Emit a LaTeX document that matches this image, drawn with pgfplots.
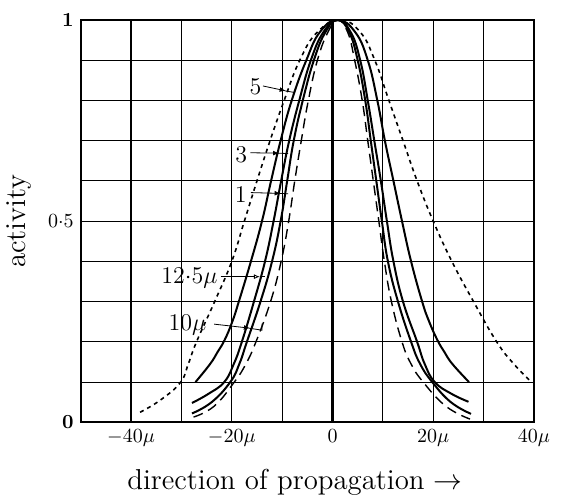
\documentclass[border=0pt]{standalone}
\usepackage{pgfplots}
\pgfplotsset{compat=1.18}
\usetikzlibrary{arrows.meta}
\begin{document}
\begin{tikzpicture}
\begin{axis}[
  scale only axis, width=226.5pt, height=201pt,
  xmin=-50, xmax=40, ymin=0, ymax=1,
  xtick={-40,-30,...,40},
  xticklabels={$-40\mu$,,$-20\mu$,,$0$,,$20\mu$,,$40\mu$},
  ytick={0,0.1,0.2,0.3,0.4,0.5,0.6,0.7,0.8,0.9,1},
  yticklabels={$\mathbf{0}$,,,,,$0{\cdot}5$,,,,,$\mathbf{1}$},
  major tick length=0pt,
  grid=major, grid style={black, line width=0.55pt},
  axis line style={line width=0.9pt},
  xlabel={direction of propagation $\rightarrow$},
  ylabel={activity},
  label style={font=\Large},
  xlabel style={at={(axis description cs:0.473,-0.148)}, anchor=center},
  ylabel style={at={(axis description cs:-0.135,0.5)}, anchor=center},
  every axis plot/.append style={smooth, tension=0.75, black, mark=none},
]
% x = 0 line
\draw[line width=1.2pt] (axis cs:0,0) -- (axis cs:0,1);
% widest, short dashes
\addplot[line width=0.8pt, dash pattern=on 2pt off 2pt] coordinates {
(-38.2,0.025) (-34.2,0.055) (-30.2,0.099) (-28.6,0.146) (-27,0.2) (-23.4,0.3) (-20,0.4) (-17.5,0.5) (-15,0.6) (-12.4,0.7) (-9.6,0.8) (-6.5,0.9) (-3,0.97) (1.5,1) (5.5,0.97) (8.4,0.9) (11.2,0.8) (14,0.7) (16.8,0.6) (20,0.5) (23.7,0.4) (28,0.3) (32.6,0.2) (36,0.145) (39.5,0.1)};
% curve 5
\addplot[line width=1pt] coordinates {
(-27.2,0.1) (-24.3,0.145) (-22.8,0.175) (-21.4,0.205) (-19.9,0.25) (-18.6,0.3) (-16.2,0.4) (-14,0.5) (-12.2,0.6) (-10.3,0.7) (-8.1,0.8) (-5.2,0.9) (-2.5,0.97) (1,1) (4.5,0.97) (7,0.9) (8.9,0.8) (10.4,0.7) (12.1,0.6) (13.8,0.5) (15.6,0.4) (17.8,0.3) (19.2,0.25) (20.8,0.205) (22.2,0.175) (23.8,0.145) (27.1,0.1)};
% curve 3
\addplot[line width=1pt] coordinates {
(-27.9,0.048) (-24.6,0.071) (-21.5,0.1) (-19.6,0.145) (-18,0.2) (-15.6,0.3) (-13.4,0.4) (-11.7,0.5) (-10.2,0.6) (-8.6,0.7) (-6.6,0.8) (-4.3,0.9) (-1.8,0.97) (1,1) (3.6,0.97) (5.5,0.9) (7,0.8) (8.3,0.7) (9.6,0.6) (10.8,0.5) (12.1,0.4) (14,0.3) (16.8,0.2) (18.3,0.145) (20.3,0.1) (23.6,0.071) (27,0.051)};
% curve 1
\addplot[line width=1pt] coordinates {
(-27.9,0.022) (-24,0.05) (-20.3,0.1) (-18.5,0.145) (-17,0.2) (-14.3,0.3) (-12,0.4) (-10.3,0.5) (-9,0.6) (-7.7,0.7) (-5.9,0.8) (-3.7,0.9) (-1.4,0.97) (1,1) (3.3,0.97) (5,0.9) (6.5,0.8) (7.6,0.7) (8.7,0.6) (9.8,0.5) (11,0.4) (13,0.3) (15.6,0.2) (17.4,0.145) (19.8,0.1) (23.5,0.05) (27.5,0.021)};
% narrowest, long dashes
\addplot[line width=0.7pt, dash pattern=on 5pt off 3pt] coordinates {
(-27.6,0.013) (-23.5,0.04) (-19.5,0.1) (-17.2,0.145) (-15.2,0.2) (-12.3,0.3) (-10.2,0.4) (-8.7,0.5) (-7.5,0.6) (-6.2,0.7) (-4.8,0.8) (-3,0.9) (-0.9,0.97) (1,1) (3,0.97) (4.4,0.9) (5.9,0.8) (7,0.7) (8.1,0.6) (9.2,0.5) (10.3,0.4) (11.7,0.3) (13.8,0.2) (15.6,0.145) (18,0.1) (22.5,0.04) (27.3,0.008)};
% labels
\node[font=\large] at (axis cs:-15.3,0.833) {5};
\draw[line width=0.4pt, -{Latex[length=3pt,width=2.4pt]}] (axis cs:-13.8,0.836) -- (axis cs:-9.3,0.824);
\draw[line width=0.4pt] (axis cs:-9.5,0.824) -- (axis cs:-7.6,0.82);
\node[font=\large] at (axis cs:-18.1,0.664) {3};
\draw[line width=0.4pt, -{Latex[length=3pt,width=2.4pt]}] (axis cs:-16.3,0.67) -- (axis cs:-10.6,0.669);
\draw[line width=0.4pt] (axis cs:-10.8,0.669) -- (axis cs:-8.8,0.668);
\node[font=\large] at (axis cs:-18.2,0.567) {1};
\draw[line width=0.4pt, -{Latex[length=3pt,width=2.4pt]}] (axis cs:-16.2,0.571) -- (axis cs:-10.3,0.569);
\draw[line width=0.4pt] (axis cs:-10.5,0.569) -- (axis cs:-8.8,0.568);
\node[font=\large] at (axis cs:-28.4,0.358) {$12{\cdot}5\mu$};
\draw[line width=0.4pt, -{Latex[open,length=3pt,width=2.4pt]}] (axis cs:-22.2,0.362) -- (axis cs:-14.4,0.362);
\draw[line width=0.4pt] (axis cs:-14.4,0.362) -- (axis cs:-13.4,0.362);
\node[font=\large] at (axis cs:-28.8,0.241) {$10\mu$};
\draw[line width=0.4pt, -{Latex[length=3pt,width=2.4pt]}] (axis cs:-23.5,0.244) -- (axis cs:-16.4,0.234);
\draw[line width=0.4pt] (axis cs:-16.6,0.234) -- (axis cs:-14,0.229) -- (axis cs:-14,0.245);
\end{axis}
\pgfresetboundingbox
\path ([shift={(-40.3pt,-37pt)}]current axis.south west) rectangle ([shift={(13.5pt,10pt)}]current axis.north east);
\end{tikzpicture}
\end{document}
